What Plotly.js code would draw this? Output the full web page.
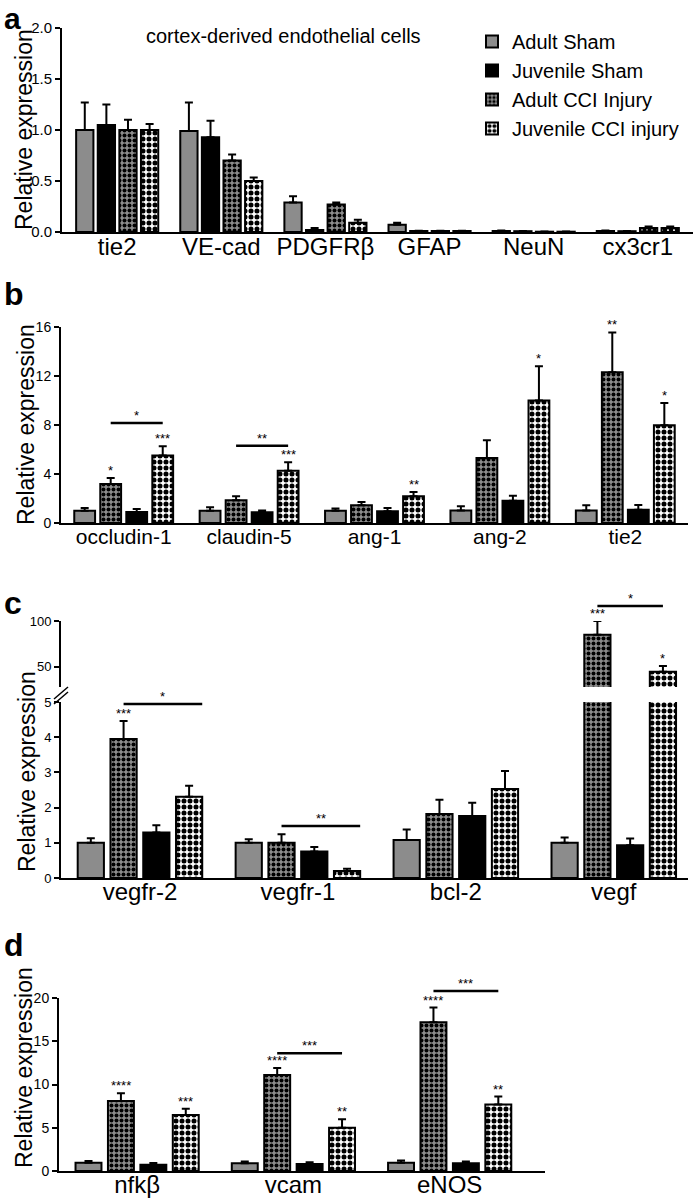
<!DOCTYPE html>
<html><head><meta charset="utf-8">
<script src="https://cdn.plot.ly/plotly-3.0.1.min.js"></script>
<style>html,body{margin:0;padding:0;background:#fff}#chart{width:698px;height:1199px}</style>
</head><body><div id="chart"></div>
<script>
// ---------------- DATA ----------------
// Panel a (order: Adult Sham, Juvenile Sham, Adult CCI, Juvenile CCI)
const catsA = ['tie2', 'VE-cad', 'PDGFRβ', 'GFAP', 'NeuN', 'cx3cr1'];
const aAdultSham    = [1.00, 0.99, 0.29, 0.07, 0.010, 0.010];
const aAdultShamErr = [0.27, 0.28, 0.06, 0.02, 0.004, 0.004];
const aJuvSham      = [1.05, 0.93, 0.02, 0.010, 0.008, 0.008];
const aJuvShamErr   = [0.20, 0.16, 0.02, 0.003, 0.003, 0.003];
const aAdultCCI     = [1.00, 0.70, 0.27, 0.010, 0.003, 0.04];
const aAdultCCIErr  = [0.10, 0.06, 0.02, 0.003, 0.002, 0.015];
const aJuvCCI       = [1.00, 0.50, 0.09, 0.010, 0.003, 0.04];
const aJuvCCIErr    = [0.06, 0.035, 0.03, 0.003, 0.002, 0.015];

// Panel b (order: Adult Sham, Adult CCI, Juvenile Sham, Juvenile CCI)
const catsB = ['occludin-1', 'claudin-5', 'ang-1', 'ang-2', 'tie2'];
const bAdultSham    = [1.00, 1.00, 1.00, 1.03, 1.03];
const bAdultShamErr = [0.22, 0.28, 0.18, 0.33, 0.41];
const bAdultCCI     = [3.18, 1.85, 1.44, 5.30, 12.30];
const bAdultCCIErr  = [0.49, 0.33, 0.27, 1.45, 3.26];
const bJuvSham      = [0.90, 0.87, 0.95, 1.82, 1.09];
const bJuvShamErr   = [0.24, 0.16, 0.27, 0.41, 0.38];
const bJuvCCI       = [5.52, 4.27, 2.18, 10.00, 7.97];
const bJuvCCIErr    = [0.74, 0.68, 0.35, 2.80, 1.83];
const bStarsAdultCCI = ['*', '', '', '', '**'];
const bStarsJuvCCI   = ['***', '***', '**', '*', '*'];
// [category index, from series, to series, level, label, extend to right edge]
const bBrackets = [[0, 1, 3, 8.16, '*', 0], [1, 1, 3, 6.3, '**', 0]];

// Panel c (order: Adult Sham, Adult CCI, Juvenile Sham, Juvenile CCI)
const catsC = ['vegfr-2', 'vegfr-1', 'bcl-2', 'vegf'];
const cAdultSham    = [1.00, 1.00, 1.08, 1.00];
const cAdultShamErr = [0.13, 0.10, 0.30, 0.15];
const cAdultCCI     = [3.95, 1.00, 1.82, 85.0];
const cAdultCCIErr  = [0.51, 0.24, 0.40, 15.0];
const cJuvSham      = [1.29, 0.75, 1.76, 0.93];
const cJuvShamErr   = [0.21, 0.13, 0.38, 0.19];
const cJuvCCI       = [2.31, 0.20, 2.53, 44.7];
const cJuvCCIErr    = [0.31, 0.06, 0.51, 6.3];
const cStarsAdultCCI = ['***', '', '', '***'];
const cStarsJuvCCI   = ['', '', '', '*'];
const cBrackets = [[0, 1, 3, 4.94, '*', 1], [1, 1, 3, 1.48, '**', 1], [3, 1, 3, 116.4, '*', 0]];

// Panel d (order: Adult Sham, Adult CCI, Juvenile Sham, Juvenile CCI)
const catsD = ['nfkβ', 'vcam', 'eNOS'];
const dAdultSham    = [0.96, 0.89, 0.96];
const dAdultShamErr = [0.19, 0.21, 0.24];
const dAdultCCI     = [8.09, 11.10, 17.20];
const dAdultCCIErr  = [0.89, 0.80, 1.70];
const dJuvSham      = [0.73, 0.80, 0.89];
const dJuvShamErr   = [0.19, 0.20, 0.21];
const dJuvCCI       = [6.47, 5.00, 7.70];
const dJuvCCIErr    = [0.73, 0.97, 0.90];
const dStarsAdultCCI = ['****', '****', '****'];
const dStarsJuvCCI   = ['***', '**', '**'];
const dBrackets = [[1, 1, 3, 13.6, '***', 0], [2, 1, 3, 20.8, '***', 0]];

const legendNames = ['Adult Sham', 'Juvenile Sham', 'Adult CCI Injury', 'Juvenile CCI injury'];

// ---------------- STYLE / LAYOUT HELPERS ----------------
const W = 698, H = 1199;
const px = p => p / W;
const py = p => 1 - p / H;
const FONT = 'Liberation Sans, Arial, Helvetica, sans-serif';
const GAP = 0.17, GROUPGAP = 0.2;
const SLOT = (1 - GAP) / 4;
const BARW = SLOT * (1 - GROUPGAP);
const barCenter = i => -(1 - GAP) / 2 + (i + 0.5) * SLOT;

const styles = {
  'Adult Sham': {color: '#8c8c8c'},
  'Juvenile Sham': {color: '#000000'},
  'Adult CCI Injury': {color: '#8c8c8c', pattern: {shape: '.', fgcolor: '#000', bgcolor: '#8c8c8c', size: 5, solidity: 0.5}},
  'Juvenile CCI injury': {color: '#ffffff', pattern: {shape: '.', fgcolor: '#000', bgcolor: '#ffffff', size: 6, solidity: 0.55}}
};

function barTrace(cats, vals, errs, name, xa, ya, showlegend) {
  const st = styles[name];
  const marker = {color: st.color, line: {color: '#000', width: 2}};
  if (st.pattern) marker.pattern = st.pattern;
  return {
    type: 'bar', x: cats, y: vals, name: name, xaxis: xa, yaxis: ya,
    showlegend: showlegend, legendgroup: name, marker: marker,
    error_y: {type: 'data', symmetric: false, array: errs, arrayminus: errs.map(() => 0),
              color: '#000', thickness: 2, width: 4},
    hoverinfo: 'skip'
  };
}

const traces = [];
// panel a
[[aAdultSham, aAdultShamErr, 'Adult Sham'], [aJuvSham, aJuvShamErr, 'Juvenile Sham'],
 [aAdultCCI, aAdultCCIErr, 'Adult CCI Injury'], [aJuvCCI, aJuvCCIErr, 'Juvenile CCI injury']]
  .forEach(s => traces.push(barTrace(catsA, s[0], s[1], s[2], 'x', 'y', true)));
// panel b
const seriesB = [[bAdultSham, bAdultShamErr, 'Adult Sham'], [bAdultCCI, bAdultCCIErr, 'Adult CCI Injury'],
                 [bJuvSham, bJuvShamErr, 'Juvenile Sham'], [bJuvCCI, bJuvCCIErr, 'Juvenile CCI injury']];
seriesB.forEach(s => traces.push(barTrace(catsB, s[0], s[1], s[2], 'x2', 'y2', false)));
// panel c (lower + upper segment of broken axis)
const seriesC = [[cAdultSham, cAdultShamErr, 'Adult Sham'], [cAdultCCI, cAdultCCIErr, 'Adult CCI Injury'],
                 [cJuvSham, cJuvShamErr, 'Juvenile Sham'], [cJuvCCI, cJuvCCIErr, 'Juvenile CCI injury']];
seriesC.forEach(s => traces.push(barTrace(catsC, s[0], s[1], s[2], 'x3', 'y3', false)));
seriesC.forEach(s => traces.push(barTrace(catsC, s[0], s[1], s[2], 'x3', 'y5', false)));
// panel d
const seriesD = [[dAdultSham, dAdultShamErr, 'Adult Sham'], [dAdultCCI, dAdultCCIErr, 'Adult CCI Injury'],
                 [dJuvSham, dJuvShamErr, 'Juvenile Sham'], [dJuvCCI, dJuvCCIErr, 'Juvenile CCI injury']];
seriesD.forEach(s => traces.push(barTrace(catsD, s[0], s[1], s[2], 'x4', 'y4', false)));

// axes geometry (pixels)
const geo = {
  a: {x: [62, 693], y: [232, 28], yr: [0, 2]},
  b: {x: [61, 688], y: [523, 327], yr: [0, 16]},
  cl: {x: [61, 688], y: [878, 702], yr: [0, 5]},
  cu: {x: [61, 688], y: [687, 621], yr: [28, 100]},
  d: {x: [59, 545], y: [1171, 998], yr: [0, 20]}
};
const toPaperY = (g, v) => py(g.y[0]) + (v - g.yr[0]) / (g.yr[1] - g.yr[0]) * (py(g.y[1]) - py(g.y[0]));

function xAxis(g, anchor, range, size, standoff) {
  return {domain: [px(g.x[0]), px(g.x[1])], anchor: anchor, range: range, type: 'category',
    showline: true, linecolor: '#000', linewidth: 2, ticks: '', showgrid: false, zeroline: false,
    ticklabelstandoff: standoff,
    tickfont: {size: size, family: FONT, color: '#000'}, fixedrange: true};
}
function yAxis(g, anchor, tickvals, fontSize, fmt) {
  return {domain: [py(g.y[0]), py(g.y[1])], anchor: anchor, range: g.yr, tickvals: tickvals,
    tickformat: fmt || '', showline: true, linecolor: '#000', linewidth: 2, ticks: 'outside',
    ticklen: 5, tickwidth: 2, tickcolor: '#000', showgrid: false, zeroline: false,
    tickfont: {size: fontSize, family: FONT, color: '#000'}, fixedrange: true};
}

const annotations = [];
const shapes = [];

function addStars(cats, vals, errs, seriesIdx, labels, xa, yaFn) {
  labels.forEach((lab, k) => {
    if (!lab) return;
    const top = vals[k] + errs[k];
    annotations.push({text: lab, xref: xa, yref: yaFn(top), x: k + barCenter(seriesIdx), y: top, yshift: -2,
      xanchor: 'center', yanchor: 'bottom', showarrow: false, font: {size: 13, family: FONT, color: '#000'}});
  });
}
function addBrackets(list, xa, geoFn) {
  list.forEach(b => {
    const [cat, from, to, level, lab, ext] = b;
    const g = geoFn(level);
    const yp = toPaperY(g, level);
    const x0 = cat + barCenter(from), x1 = cat + barCenter(to) + (ext ? BARW / 2 : 0);
    shapes.push({type: 'line', xref: xa, yref: 'paper', x0: x0, x1: x1, y0: yp, y1: yp,
      line: {color: '#000', width: 2.5}});
    annotations.push({text: lab, xref: xa, yref: 'paper', x: (x0 + x1) / 2, y: yp, yshift: -2,
      xanchor: 'center', yanchor: 'bottom', showarrow: false, font: {size: 13, family: FONT, color: '#000'}});
  });
}

addStars(catsB, bAdultCCI, bAdultCCIErr, 1, bStarsAdultCCI, 'x2', () => 'y2');
addStars(catsB, bJuvCCI, bJuvCCIErr, 3, bStarsJuvCCI, 'x2', () => 'y2');
addBrackets(bBrackets, 'x2', () => geo.b);
addStars(catsC, cAdultCCI, cAdultCCIErr, 1, cStarsAdultCCI, 'x3', v => v > 5 ? 'y5' : 'y3');
addStars(catsC, cJuvCCI, cJuvCCIErr, 3, cStarsJuvCCI, 'x3', v => v > 5 ? 'y5' : 'y3');
addBrackets(cBrackets, 'x3', v => v > 5 ? geo.cu : geo.cl);
addStars(catsD, dAdultCCI, dAdultCCIErr, 1, dStarsAdultCCI, 'x4', () => 'y4');
addStars(catsD, dJuvCCI, dJuvCCIErr, 3, dStarsJuvCCI, 'x4', () => 'y4');
addBrackets(dBrackets, 'x4', () => geo.d);

// axis titles
[[24, 130], [26, 425], [27, 772], [24, 1068]].forEach(p => annotations.push({
  text: 'Relative expression', textangle: -90, xref: 'paper', yref: 'paper', x: px(p[0]), y: py(p[1]),
  xanchor: 'center', yanchor: 'middle', showarrow: false, font: {size: 23, family: FONT, color: '#000'}}));
// panel letters
annotations.push({text: '<b>a</b>', xref: 'paper', yref: 'paper', x: px(2), y: py(0),
  xanchor: 'left', yanchor: 'top', showarrow: false, font: {size: 30, family: FONT, color: '#000'}});
[['b', 294], ['c', 603], ['d', 945]].forEach(p => annotations.push({
  text: '<b>' + p[0] + '</b>', xref: 'paper', yref: 'paper', x: px(2), y: py(p[1]),
  xanchor: 'left', yanchor: 'middle', showarrow: false, font: {size: 32, family: FONT, color: '#000'}}));
// panel a subtitle
annotations.push({text: 'cortex-derived endothelial cells', xref: 'paper', yref: 'paper', x: px(144), y: py(36),
  xanchor: 'left', yanchor: 'middle', showarrow: false, font: {size: 20, family: FONT, color: '#000'}});

// axis break marks in panel c
shapes.push({type: 'line', xref: 'paper', yref: 'paper', x0: px(54), y0: py(699), x1: px(68), y1: py(687), line: {color: '#000', width: 1.5}});
shapes.push({type: 'line', xref: 'paper', yref: 'paper', x0: px(54), y0: py(704), x1: px(68), y1: py(692), line: {color: '#000', width: 1.5}});

const layout = {
  width: W, height: H, margin: {l: 0, r: 0, t: 0, b: 0},
  paper_bgcolor: '#fff', plot_bgcolor: 'rgba(0,0,0,0)',
  barmode: 'group', bargap: GAP, bargroupgap: GROUPGAP,
  hovermode: false, showlegend: true,
  font: {family: FONT, color: '#000'},
  legend: {x: px(472), y: py(22), xanchor: 'left', yanchor: 'top', bgcolor: 'rgba(0,0,0,0)',
           font: {size: 20, family: FONT, color: '#000'}, traceorder: 'normal', tracegroupgap: 0},
  xaxis: xAxis(geo.a, 'y', [-0.53, 5.53], 24, -8),
  yaxis: yAxis(geo.a, 'x', [0, 0.5, 1, 1.5, 2], 15, '.1f'),
  xaxis2: xAxis(geo.b, 'y2', [-0.5, 4.5], 21, -6),
  yaxis2: yAxis(geo.b, 'x2', [0, 4, 8, 12, 16], 14),
  xaxis3: xAxis(geo.cl, 'y3', [-0.5, 3.47], 24, -9),
  yaxis3: yAxis(geo.cl, 'x3', [0, 1, 2, 3, 4, 5], 13),
  yaxis5: yAxis(geo.cu, 'x3', [50, 100], 13),
  xaxis4: xAxis(geo.d, 'y4', [-0.5, 2.61], 24, -9),
  yaxis4: yAxis(geo.d, 'x4', [0, 5, 10, 15, 20], 14),
  annotations: annotations, shapes: shapes
};

Plotly.newPlot('chart', traces, layout, {displayModeBar: false, staticPlot: true});
</script>
</body></html>
